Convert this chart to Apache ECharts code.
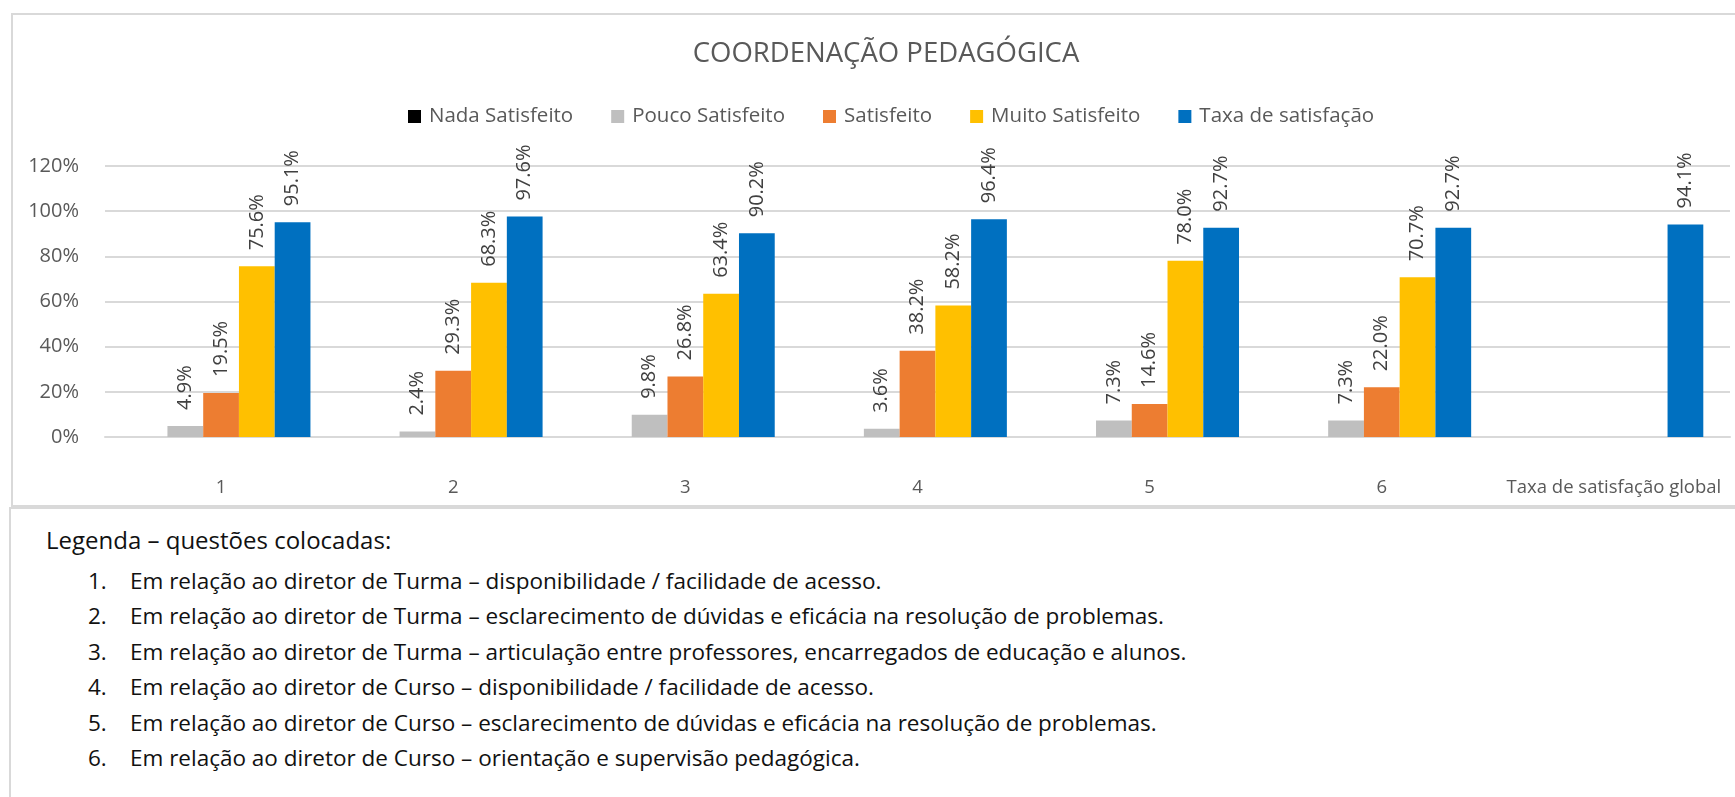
<!DOCTYPE html>
<html>
<head>
<meta charset="utf-8">
<script src="https://cdn.jsdelivr.net/npm/echarts@6/dist/echarts.min.js"></script>
<style>
  html, body { margin: 0; padding: 0; background: #fff; overflow: hidden; width: 1735px; height: 797px; }
  .chartBox { position: absolute; left: 11px; top: 13px; width: 1740px; height: 494px; border: 2px solid #d9d9d9; box-sizing: border-box; }
  #chart { width: 100%; height: 100%; }
  .notes { position: absolute; left: 9px; top: 507px; width: 1740px; height: 320px; border: 2px solid #d9d9d9; box-sizing: border-box; font-family: "Open Sans", sans-serif; color: #111; }
  .notes h3 { position: absolute; left: 35px; top: 14px; margin: 0; font-weight: normal; font-size: 24px; }
  .notes ol { position: absolute; left: 0; top: 54px; margin: 0; padding: 0; list-style: none; font-size: 22.5px; }
  .notes li { height: 35.4px; line-height: 35.4px; white-space: nowrap; }
  .notes li span { display: inline-block; width: 42px; margin-left: 77px; }
</style>
</head>
<body>
<div class="chartBox"><div id="chart"></div></div>
<div class="notes">
  <h3>Legenda – questões colocadas:</h3>
  <ol id="qlist"></ol>
</div>
<script>
const categories = ['1', '2', '3', '4', '5', '6', 'Taxa de satisfação global']
const seriesNames = ['Nada Satisfeito', 'Pouco Satisfeito', 'Satisfeito', 'Muito Satisfeito', 'Taxa de satisfação']
const colors = ['#000000', '#bfbfbf', '#ed7d31', '#ffc000', '#0070c0']
const nada = [0, 0, 0, 0, 0, 0, null]
const pouco = [4.9, 2.4, 9.8, 3.6, 7.3, 7.3, null]
const satisfeito = [19.5, 29.3, 26.8, 38.2, 14.6, 22.0, null]
const muito = [75.6, 68.3, 63.4, 58.2, 78.0, 70.7, null]
const taxa = [95.1, 97.6, 90.2, 96.4, 92.7, 92.7, 94.1]
const questions = [
  'Em relação ao diretor de Turma – disponibilidade / facilidade de acesso.',
  'Em relação ao diretor de Turma – esclarecimento de dúvidas e eficácia na resolução de problemas.',
  'Em relação ao diretor de Turma – articulação entre professores, encarregados de educação e alunos.',
  'Em relação ao diretor de Curso – disponibilidade / facilidade de acesso.',
  'Em relação ao diretor de Curso – esclarecimento de dúvidas e eficácia na resolução de problemas.',
  'Em relação ao diretor de Curso – orientação e supervisão pedagógica.'
]

let ql = document.getElementById('qlist')
questions.forEach(function (q, i) {
  let li = document.createElement('li')
  li.innerHTML = '<span>' + (i + 1) + '.</span>' + q
  ql.appendChild(li)
})

const font = '"Open Sans", sans-serif'
const allData = [nada, pouco, satisfeito, muito, taxa]

let series = seriesNames.map(function (name, i) {
  return {
    name: name,
    type: 'bar',
    data: allData[i],
    itemStyle: { color: colors[i] },
    barGap: 0,
    barCategoryGap: '23%',
    label: {
      show: i > 0,
      position: 'top',
      rotate: 90,
      align: 'left',
      verticalAlign: 'middle',
      distance: 16,
      fontFamily: font,
      fontSize: 20,
      color: '#404040',
      formatter: function (p) { return p.value == null ? '' : p.value.toFixed(1) + '%' }
    }
  }
})

let myChart = echarts.init(document.getElementById('chart'))
let option = {
  animation: false,
  title: {
    text: 'COORDENAÇÃO PEDAGÓGICA',
    left: 868,
    textAlign: 'center',
    top: 20,
    textStyle: { fontFamily: font, fontSize: 27.5, fontWeight: 'normal', color: '#595959' }
  },
  legend: {
    left: 390,
    top: 86,
    itemWidth: 13,
    itemHeight: 13,
    itemGap: 38,
    icon: 'rect',
    textStyle: { fontFamily: font, fontSize: 20.5, color: '#595959', padding: [0, 0, 0, 3] },
    data: seriesNames
  },
  grid: { left: 92, top: 151, right: 19, bottom: 68, containLabel: false },
  xAxis: {
    type: 'category',
    data: categories,
    axisTick: { show: false },
    axisLine: { lineStyle: { color: '#d9d9d9', width: 2 } },
    axisLabel: { interval: 0, fontFamily: font, fontSize: 18.5, color: '#595959', margin: 41 }
  },
  yAxis: {
    type: 'value',
    min: 0,
    max: 120,
    interval: 20,
    axisLine: { show: false },
    axisTick: { show: false },
    splitLine: { lineStyle: { color: '#d9d9d9', width: 2 } },
    axisLabel: { fontFamily: font, fontSize: 20, color: '#595959', margin: 26, formatter: '{value}%' }
  },
  series: series
}
myChart.setOption(option)
</script>
</body>
</html>
